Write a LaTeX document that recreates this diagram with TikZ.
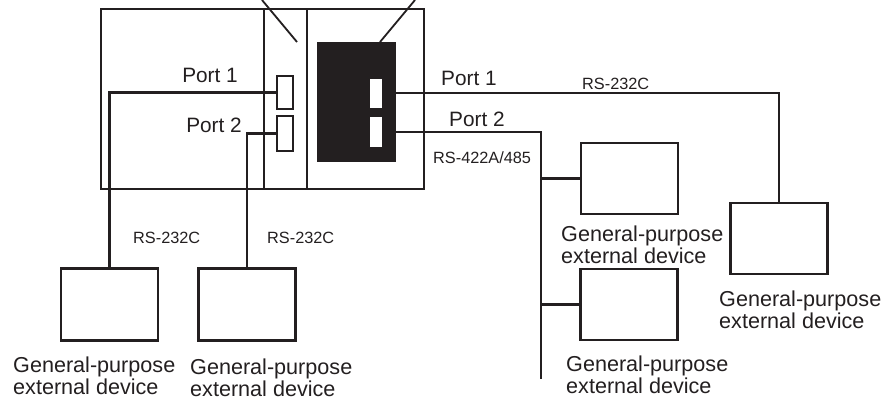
\documentclass[tikz,border=0pt]{standalone}
\usepackage{fontspec}
\setmainfont{Liberation Sans}
\usetikzlibrary{positioning,calc}
\definecolor{Ink}{RGB}{35,31,32}
\tikzset{
  unitbox/.style={draw=Ink,line width=2.6pt,inner sep=0pt},
  portbox/.style={draw=Ink,line width=2.4pt,fill=white,inner sep=0pt,minimum width=16pt},
  winbox/.style={fill=white,inner sep=0pt,minimum width=12pt},
  devbox/.style={draw=Ink,line width=2.6pt,fill=white,inner sep=0pt,minimum width=97pt,minimum height=72pt},
  wire/.style={draw=Ink,line width=2.4pt},
  leader/.style={draw=Ink,line width=1.8pt},
  portlabel/.style={font=\fontsize{20.8}{21}\selectfont,text=Ink,inner sep=0pt},
  linklabel/.style={font=\fontsize{16.3}{17}\selectfont,text=Ink,inner sep=0pt,anchor=base west},
  devlabel/.style={font=\fontsize{21.6}{21.5}\selectfont,text=Ink,inner sep=0pt,align=left,anchor=north west}
}

\begin{document}
\begin{tikzpicture}[x=1pt,y=-1pt]
\useasboundingbox (0,0) rectangle (887,402);
\node[unitbox,minimum width=323pt,minimum height=180pt] (cpu) at (262.5,99) {};
\coordinate (divA) at (264,9);
\coordinate (divB) at (307,9);
\draw[wire] (divA) -- (divA |- cpu.south);
\draw[wire] (divB) -- (divB |- cpu.south);

\node[portbox,minimum height=33pt] (portA) at (285,92.5) {};
\node[portbox,minimum height=35pt] (portB) at (285,133.5) {};
\node[draw=Ink,fill=Ink,inner sep=0pt,minimum width=78pt,minimum height=119pt] (board) at (356,101.5) {};
\node[winbox,minimum height=29pt] (winA) at (376,93) {};
\node[winbox,minimum height=30pt] (winB) at (376,132) {};

\coordinate (tagA) at (262,0);
\coordinate (tagB) at (415,0);
\coordinate (tipA) at (297,42);
\coordinate (tipB) at (380,42);
\draw[leader] (tagA) -- (tipA);
\draw[leader] (tagB) -- (tipB);

\node[devbox] (devL) at (109.5,304.5) {};
\node[devbox] (devM) at (247,304.5) {};
\node[devbox,minimum height=71pt] (devA) at (629.5,178.5) {};
\node[devbox,minimum height=71pt] (devB) at (629,304.5) {};
\node[devbox,minimum height=71pt] (devC) at (779,238.5) {};
\coordinate (bus) at (541,379);

\draw[wire] (portA.west) -| (devL.north);
\draw[wire] (portB.west) -| (devM.north);
\draw[wire] (winA.east) -| (devC.north);
\draw[wire] (winB.east) -| (bus);
\draw[wire] (devA.west) -- (devA.west -| bus);
\draw[wire] (devB.west) -- (devB.west -| bus);

\node[portlabel,anchor=base east] (lblA) at (238,82) {Port 1};
\node[portlabel,anchor=base east] (lblB) at (242,132) {Port 2};
\node[portlabel,anchor=base west] (lblC) at (441,85) {Port 1};
\node[portlabel,anchor=base west] (lblD) at (449,126) {Port 2};
\node[linklabel] (rsA) at (582,89) {RS-232C};
\node[linklabel] (rsB) at (433,163) {RS-422A/485};
\node[linklabel] (rsC) at (133,243) {RS-232C};
\node[linklabel] (rsD) at (267,243) {RS-232C};

\node[devlabel] (txtL) at (13,357) {General-purpose\\external device};
\node[devlabel] (txtM) at (190,359) {General-purpose\\external device};
\node[devlabel] (txtA) at (561,226) {General-purpose\\external device};
\node[devlabel] (txtC) at (719,291) {General-purpose\\external device};
\node[devlabel] (txtB) at (566,356) {General-purpose\\external device};
\end{tikzpicture}
\end{document}
